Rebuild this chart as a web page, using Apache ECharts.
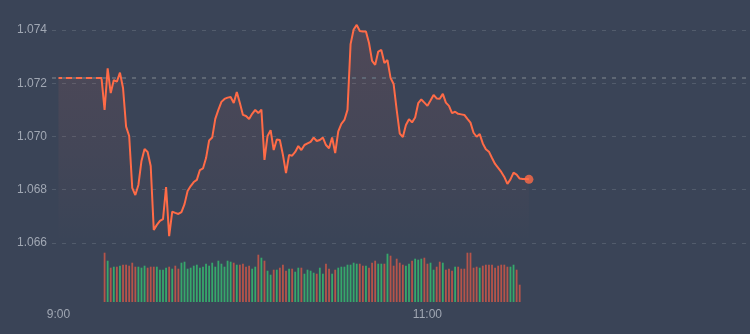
<!DOCTYPE html>
<html><head><meta charset="utf-8">
<script src="https://cdn.jsdelivr.net/npm/echarts@6/dist/echarts.min.js"></script>
<style>html,body{margin:0;padding:0;background:#3a4457;}#c{width:750px;height:334px;}</style>
</head><body><div id="c"></div>
<script>
// minutes counted from 9:00
const prevClose = 1.0722;
const prices = [
 1.0722,1.0722,1.0722,1.0722,1.0722,1.0722,1.0722,1.0722,1.0722,1.0722,1.0722,1.0722,1.0722,1.0722,1.0722,
 1.07100,1.07256,1.07163,1.07212,1.07206,1.07240,1.07182,1.07037,1.07002,1.06807,
 1.06780,1.06818,1.06908,1.06953,1.06942,1.06889,1.06649,1.06668,1.06683,1.06690,
 1.06810,1.06626,1.06718,1.06713,1.06709,1.06716,1.06746,1.06795,1.06814,1.06829,
 1.06837,1.06874,1.06880,1.06919,1.06985,1.06996,1.07066,1.07100,1.07130,1.07141,
 1.07146,1.07148,1.07126,1.07167,1.07126,1.07081,1.07077,1.07066,1.07085,1.07100,
 1.07088,1.07101,1.06912,1.07002,1.07024,1.06949,1.06989,1.06987,1.06931,1.06863,
 1.06931,1.06928,1.06942,1.06964,1.06949,1.06968,1.06974,1.06980,1.06996,1.06983,
 1.06987,1.06996,1.06968,1.06956,1.06996,1.06938,1.07019,1.07047,1.07062,1.07100,
 1.07347,1.07402,1.07419,1.07396,1.07394,1.07394,1.07351,1.07284,1.07269,1.07319,
 1.07325,1.07276,1.07287,1.07220,1.07197,1.07100,1.07011,1.06998,1.07043,1.07065,
 1.07053,1.07071,1.07125,1.07139,1.07127,1.07115,1.07135,1.07156,1.07143,1.07142,
 1.07160,1.07127,1.07115,1.07088,1.07093,1.07085,1.07083,1.07081,1.07066,1.07052,
 1.07014,1.06999,1.07009,1.06974,1.06952,1.06943,1.06919,1.06897,1.06882,1.06867,
 1.06848,1.06822,1.06839,1.06864,1.06857,1.06842,1.06840,1.06840,1.06839
];
const volumeStartMinute = 15;
const volumes = [
 493,413,343,353,353,363,373,373,363,393, 353,353,343,363,343,353,353,353,323,323,
 343,353,333,363,333,393,403,333,343,363, 373,343,353,383,363,393,353,413,383,353,
 413,403,393,373,373,383,353,363,333,353, 473,443,413,313,273,323,323,343,373,313,
 333,333,303,343,
 343,283,323,313,293,283,343,283,383,333, 283,323,343,353,353,373,373,393,383,383,
 363,363,343,393,413,383,383,383,483,463, 363,433,393,373,363,383,413,433,423,433,
 443,383,393,323,353,403,393,323,333,313, 353,353,333,333,493,493,343,353,343,363,
 373,373,373,343,363,373,373,353,353,373, 323,173
];
const xLabelMinutes = [0, 120];
const yMin = 1.066, yMax = 1.0746, yStep = 0.002;

const lineColor = '#ff6b47';
const upColor = '#36a86b', downColor = '#b5544a';
const xMin = -2.1, xMax = 223.6;

function fmtTime(v){ const h = 9 + Math.floor(v/60); const m = Math.round(v%60); return h + ':' + (m<10?'0':'') + m; }

const chart = echarts.init(document.getElementById('c'), null, {renderer:'canvas'});
const last = prices.length - 1;
chart.setOption({
  backgroundColor: '#3a4457',
  animation: false,
  textStyle: {fontFamily: 'Liberation Sans, Arial, sans-serif'},
  grid: [
    {left: 52, right: 4, top: 14, bottom: 91},
    {left: 52, right: 4, top: 250, bottom: 32}
  ],
  xAxis: [
    {type:'value', gridIndex:0, min:xMin, max:xMax, show:false},
    {type:'value', gridIndex:1, min:xMin, max:xMax,
     axisLine:{show:false}, axisTick:{show:false}, splitLine:{show:false},
     axisLabel:{customValues: xLabelMinutes, formatter: fmtTime, color:'#a0a7b3', fontSize:12, margin:7}}
  ],
  yAxis: [
    {type:'value', gridIndex:0, min:yMin, max:yMax, interval:yStep,
     axisLine:{show:false}, axisTick:{show:false},
     axisLabel:{color:'#a0a7b3', fontSize:12, margin:5, showMaxLabel:false, formatter: v => v.toFixed(3)},
     splitLine:{show:true, showMaxLine:false, lineStyle:{color:'#525c6c', type:[4,6], width:1}}},
    {type:'value', gridIndex:1, min:0, max:520, show:false}
  ],
  series: [
    {type:'line', xAxisIndex:0, yAxisIndex:0, showSymbol:false, symbol:'none',
     data: prices.map((p,i)=>[i,p]),
     lineStyle:{color:lineColor, width:2},
     areaStyle:{color:new echarts.graphic.LinearGradient(0,0,0,1,[
        {offset:0, color:'rgba(255,110,90,0.16)'},
        {offset:1, color:'rgba(255,110,90,0.0)'}])},
     markLine:{silent:true, symbol:'none', precision:5, label:{show:false},
       lineStyle:{color:'#5e6774', type:[4,6], width:2},
       data:[{yAxis: prevClose}]}
    },
    {type:'scatter', xAxisIndex:0, yAxisIndex:0, symbolSize:9,
     itemStyle:{color:lineColor}, data:[[last, prices[last]]]},
    {type:'bar', xAxisIndex:1, yAxisIndex:1, barWidth:1.8,
     data: volumes.map((v,i)=>{
       const m = i + volumeStartMinute;
       const up = prices[m] >= prices[m-1];
       return {value:[m, v], itemStyle:{color: up ? upColor : downColor}};
     })}
  ]
});
</script></body></html>
